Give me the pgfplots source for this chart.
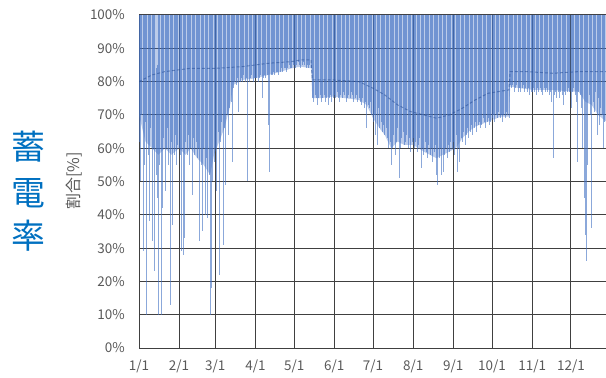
\documentclass[border=0pt]{standalone}
\usepackage{fontspec}
\setmainfont{Noto Sans CJK JP}
\usepackage{pgfplots}
\usepackage{pgfplotstable}
\usepgfplotslibrary{fillbetween}
\pgfplotsset{compat=1.18}
\definecolor{tickgray}{RGB}{89,89,89}
\definecolor{gridc}{RGB}{64,64,64}
\definecolor{spike}{RGB}{68,114,196}
\definecolor{midc}{RGB}{38,78,150}
\definecolor{titleblue}{RGB}{0,112,192}

\pgfplotstableread[row sep=\\]{
d hi lo\\
0 100 62\\ 1 100 50\\ 2 100 70\\ 3 100 29\\ 4 100 55\\ 5 100 68\\ 6 100 10\\ 7 100 58\\ 8 100 38\\ 9 100 66\\
10 100 32\\ 11 100 60\\ 12 100 23\\ 13 84 52\\ 14 85 45\\ 15 100 10\\ 16 100 55\\ 17 100 10\\ 18 100 42\\ 19 100 63\\
20 100 47\\ 21 100 60\\ 22 100 66\\ 23 100 55\\ 24 100 13\\ 25 100 62\\ 26 100 37\\ 27 100 58\\ 28 100 64\\ 29 100 55\\
30 100 61\\ 31 100 60\\ 32 100 58\\ 33 100 29\\ 34 100 28\\ 35 100 33\\ 36 100 62\\ 37 100 58\\ 38 100 64\\ 39 100 55\\
40 100 60\\ 41 100 46\\ 42 100 63\\ 43 100 58\\ 44 100 62\\ 45 100 57\\ 46 100 60\\ 47 100 32\\ 48 100 55\\ 49 100 35\\
50 100 60\\ 51 100 40\\ 52 100 57\\ 53 100 39\\ 54 100 52\\ 55 100 10\\ 56 100 18\\ 57 100 50\\ 58 100 56\\ 59 100 60\\
60 100 47\\ 61 100 65\\ 62 100 22\\ 63 100 62\\ 64 100 68\\ 65 100 31\\ 66 100 66\\ 67 100 49\\ 68 100 70\\ 69 100 64\\
70 100 72\\ 71 100 74\\ 72 100 56\\ 73 100 78\\ 74 100 80\\ 75 100 79\\ 76 100 81\\ 77 100 71\\ 78 100 80\\ 79 100 81\\
80 100 80\\ 81 100 82\\ 82 100 80\\ 83 100 81\\ 84 100 50\\ 85 100 80\\ 86 100 81\\ 87 100 82\\ 88 100 80\\ 89 100 81\\
90 100 81\\ 91 100 81\\ 92 100 80\\ 93 100 81\\ 94 100 82\\ 95 100 75\\ 96 100 81\\ 97 100 82\\ 98 100 81\\ 99 100 82\\
100 100 67\\ 101 100 53\\ 102 100 82\\ 103 100 82\\ 104 100 83\\ 105 100 82\\ 106 100 83\\ 107 100 83\\ 108 100 82\\ 109 100 83\\
110 100 84\\ 111 100 83\\ 112 100 84\\ 113 100 84\\ 114 100 83\\ 115 100 84\\ 116 100 85\\ 117 100 84\\ 118 100 84\\ 119 100 85\\
120 100 85\\ 121 100 84\\ 122 100 85\\ 123 100 86\\ 124 100 85\\ 125 100 84\\ 126 100 85\\ 127 100 86\\ 128 100 85\\ 129 100 84\\
130 100 85\\ 131 100 84\\ 132 100 85\\ 133 100 84\\ 134 100 75\\ 135 100 74\\ 136 100 76\\ 137 100 75\\ 138 100 73\\ 139 100 75\\
140 100 76\\ 141 100 74\\ 142 100 75\\ 143 100 76\\ 144 100 74\\ 145 100 75\\ 146 100 73\\ 147 100 75\\ 148 100 76\\ 149 100 74\\
150 100 75\\ 151 100 76\\ 152 100 75\\ 153 100 77\\ 154 100 75\\ 155 100 74\\ 156 100 76\\ 157 100 75\\ 158 100 77\\ 159 100 76\\
160 100 74\\ 161 100 75\\ 162 100 76\\ 163 100 75\\ 164 100 77\\ 165 100 76\\ 166 100 74\\ 167 100 75\\ 168 100 76\\ 169 100 74\\
170 100 75\\ 171 100 74\\ 172 100 73\\ 173 100 75\\ 174 100 72\\ 175 100 74\\ 176 100 66\\ 177 100 73\\ 178 100 72\\ 179 100 74\\
180 100 70\\ 181 100 68\\ 182 100 70\\ 183 100 64\\ 184 100 61\\ 185 100 72\\ 186 100 66\\ 187 100 68\\ 188 100 65\\ 189 100 67\\
190 100 64\\ 191 100 66\\ 192 100 63\\ 193 100 60\\ 194 100 62\\ 195 100 55\\ 196 100 60\\ 197 100 64\\ 198 100 58\\ 199 100 62\\
200 100 66\\ 201 100 51\\ 202 100 60\\ 203 100 63\\ 204 100 65\\ 205 100 61\\ 206 100 62\\ 207 100 64\\ 208 100 60\\ 209 100 63\\
210 100 59\\ 211 100 62\\ 212 100 63\\ 213 100 60\\ 214 100 62\\ 215 100 59\\ 216 100 61\\ 217 100 63\\ 218 100 54\\ 219 100 60\\
220 100 58\\ 221 100 62\\ 222 100 59\\ 223 100 57\\ 224 100 61\\ 225 100 58\\ 226 100 60\\ 227 100 56\\ 228 100 59\\ 229 100 61\\
230 100 52\\ 231 100 49\\ 232 100 57\\ 233 100 60\\ 234 100 52\\ 235 100 53\\ 236 100 58\\ 237 100 60\\ 238 100 57\\ 239 100 61\\
240 100 59\\ 241 100 62\\ 242 100 60\\ 243 100 62\\ 244 100 58\\ 245 100 64\\ 246 100 53\\ 247 100 60\\ 248 100 56\\ 249 100 63\\
250 100 62\\ 251 100 65\\ 252 100 61\\ 253 100 64\\ 254 100 66\\ 255 100 63\\ 256 100 65\\ 257 100 67\\ 258 100 64\\ 259 100 66\\
260 100 68\\ 261 100 65\\ 262 100 67\\ 263 100 68\\ 264 100 66\\ 265 100 67\\ 266 100 69\\ 267 100 68\\ 268 100 66\\ 269 100 68\\
270 100 69\\ 271 100 67\\ 272 100 68\\ 273 100 69\\ 274 100 70\\ 275 100 68\\ 276 100 70\\ 277 100 69\\ 278 100 71\\ 279 100 69\\
280 100 70\\ 281 100 68\\ 282 100 70\\ 283 100 69\\ 284 100 71\\ 285 100 70\\ 286 100 69\\ 287 100 79\\ 288 100 78\\ 289 100 79\\
290 100 77\\ 291 100 78\\ 292 100 79\\ 293 100 77\\ 294 100 78\\ 295 100 77\\ 296 100 78\\ 297 100 79\\ 298 100 77\\ 299 100 78\\
300 100 77\\ 301 100 78\\ 302 100 76\\ 303 100 77\\ 304 100 77\\ 305 100 78\\ 306 100 77\\ 307 100 76\\ 308 100 78\\ 309 100 77\\
310 100 78\\ 311 100 77\\ 312 100 76\\ 313 100 78\\ 314 100 77\\ 315 100 78\\ 316 100 77\\ 317 100 76\\ 318 100 77\\ 319 100 74\\
320 100 57\\ 321 100 76\\ 322 100 77\\ 323 100 75\\ 324 100 77\\ 325 100 75\\ 326 100 77\\ 327 100 76\\ 328 100 73\\ 329 100 77\\
330 100 76\\ 331 100 77\\ 332 100 78\\ 333 100 77\\ 334 100 72\\ 335 100 77\\ 336 100 78\\ 337 100 76\\ 338 100 74\\ 339 100 56\\
340 100 77\\ 341 100 76\\ 342 100 72\\ 343 100 60\\ 344 100 45\\ 345 100 34\\ 346 100 26\\ 347 100 55\\ 348 100 76\\ 349 100 70\\
350 100 36\\ 351 100 74\\ 352 100 71\\ 353 100 77\\ 354 100 64\\ 355 100 75\\ 356 100 67\\ 357 100 72\\ 358 100 70\\ 359 100 60\\
360 100 68\\ 361 100 72\\
}\daily

\pgfplotstableread[row sep=\\]{
d b\\
0 70\\ 5 62\\ 10 60\\ 15 58\\ 20 60\\ 25 58\\ 31 60\\ 36 58\\ 40 60\\ 45 57\\ 50 55\\ 55 52\\ 58 58\\ 62 62\\ 66 66\\ 70 72\\ 73 79\\
80 80.5\\ 90 81\\ 100 82\\ 110 83\\ 118 84\\ 125 84.5\\ 133 84\\ 134 75\\ 140 75\\ 150 75.5\\ 160 75\\ 170 74.5\\ 176 73\\
181 69\\ 186 66\\ 190 64\\ 195 60\\ 200 62\\ 205 61\\ 212 61\\ 220 59\\ 230 57\\ 240 59\\ 245 60\\ 250 63\\ 255 65\\ 260 66.5\\
270 68\\ 280 69.5\\ 286 69.5\\ 287 78.5\\ 295 78\\ 305 77.5\\ 320 77.5\\ 334 77\\ 340 77\\ 345 74\\ 350 73\\ 355 70\\ 361.2 68\\
}\basetab

\pgfplotstableread[row sep=\\]{
d m\\
0 80\\ 10 82\\ 20 83\\ 30 83.5\\ 40 84\\ 60 84\\ 80 84.5\\ 100 85.5\\ 118 86\\ 125 86.5\\ 133 86.5\\ 134 80.5\\ 150 80.5\\
170 80\\ 181 78\\ 190 76\\ 200 73\\ 210 71\\ 220 70\\ 230 69\\ 240 70\\ 250 72\\ 260 74.5\\ 270 76.5\\ 286 77.5\\ 287 83\\
300 83\\ 320 82.5\\ 340 83\\ 361.2 83\\
}\midtab

\begin{document}
\begin{tikzpicture}
\begin{axis}[
  at={(0,0)}, anchor=south west,
  width=467bp, height=333bp, scale only axis,
  xmin=0, xmax=361.1, ymin=0, ymax=100,
  axis line style={draw=none},
  major tick length=0pt,
  xtick={0,31,59,90,120,151,181,212,243,273,304,334},
  xticklabels={1/1,2/1,3/1,4/1,5/1,6/1,7/1,8/1,9/1,10/1,11/1,12/1},
  ytick={0,10,20,30,40,50,60,70,80,90,100},
  yticklabels={0\%,10\%,20\%,30\%,40\%,50\%,60\%,70\%,80\%,90\%,100\%},
  grid=major,
  grid style={line width=1bp, color=gridc},
  tick label style={font=\fontsize{13.5}{16}\selectfont, text=tickgray},
  yticklabel style={inner sep=0pt, anchor=east, xshift=-14bp},
  xticklabel style={inner sep=0pt, anchor=north, yshift=-12bp},
  clip=true,
]
\addplot[name path=base, draw=none, mark=none, forget plot] table[x=d, y=b] {\basetab};
\addplot[name path=top, draw=none, mark=none, forget plot] coordinates {(0,100) (361.2,100)};
\addplot[fill=spike, fill opacity=0.36, draw=none, forget plot] fill between[of=top and base];
\addplot[draw=none, mark=none, forget plot,
  error bars/.cd, y dir=minus, y explicit, error mark=none,
  error bar style={draw=spike, solid, line width=0.6bp, opacity=0.62}]
  table[x=d, y=hi, y error minus expr=\thisrow{hi}-\thisrow{lo}] {\daily};
\addplot[color=midc, mark=none, line width=1bp, dash pattern=on 3bp off 2bp, opacity=0.55, forget plot] table[x=d, y=m] {\midtab};
\end{axis}
\node[rotate=90, text=tickgray, font=\fontsize{16}{19}\selectfont] at (-65bp,167bp) {割合[\%]};
\node[text=titleblue, font=\fontsize{34}{37}\selectfont] at (-111bp,201bp) {蓄};
\node[text=titleblue, font=\fontsize{34}{37}\selectfont] at (-111bp,155bp) {電};
\node[text=titleblue, font=\fontsize{34}{37}\selectfont] at (-111bp,112bp) {率};
\pgfresetboundingbox
\path[use as bounding box] (-139bp,-30bp) rectangle (467bp,348bp);
\end{tikzpicture}
\end{document}
